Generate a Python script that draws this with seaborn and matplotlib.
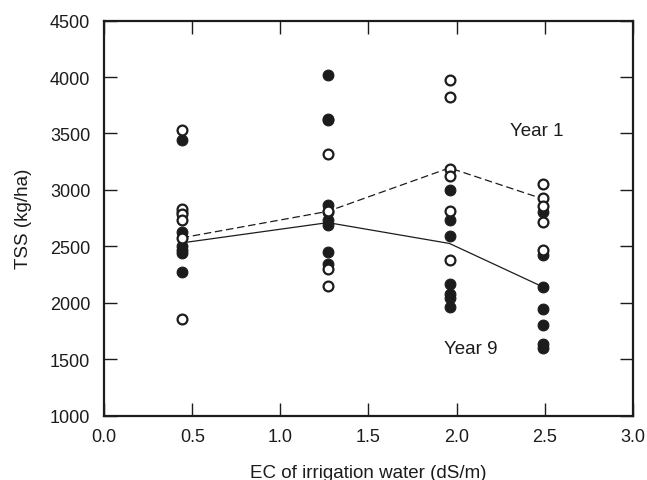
import pandas as pd
import matplotlib
matplotlib.use("Agg")
import matplotlib.pyplot as plt
import seaborn as sns

ec_levels = [0.44, 1.27, 1.96, 2.49]

year1_points = {
    0.44: [3535, 2835, 2785, 2730, 2570, 1860],
    1.27: [3315, 2810, 2300, 2145],
    1.96: [3970, 3820, 3185, 3120, 2815, 2375],
    2.49: [3055, 2925, 2860, 2715, 2465],
}
year9_points = {
    0.44: [3445, 2805, 2625, 2500, 2465, 2440, 2275],
    1.27: [4020, 3630, 3620, 2865, 2805, 2730, 2690, 2450, 2345],
    1.96: [3000, 2730, 2595, 2165, 2075, 2040, 1960],
    2.49: [2800, 2425, 2140, 1945, 1800, 1630, 1595],
}
year1_line = [2575, 2810, 3195, 2920]
year9_line = [2530, 2710, 2525, 2140]

def to_frame(d):
    rows = [(ec, v) for ec, vals in d.items() for v in vals]
    return pd.DataFrame(rows, columns=["ec", "tss"])

df1 = to_frame(year1_points)
df9 = to_frame(year9_points)
lines = pd.DataFrame({"ec": ec_levels * 2,
                      "tss": year1_line + year9_line,
                      "year": ["Year 1"] * 4 + ["Year 9"] * 4})

sns.set_style("ticks")
ink = "#1c1c1c"
plt.rcParams.update({
    "font.family": ["Liberation Sans", "DejaVu Sans"],
    "xtick.direction": "in", "ytick.direction": "in",
    "xtick.top": True, "ytick.right": True,
    "xtick.major.size": 9.5, "ytick.major.size": 9.5,
    "xtick.major.width": 1.0, "ytick.major.width": 1.0,
    "xtick.color": ink, "ytick.color": ink,
})

fig = plt.figure(figsize=(6.47, 4.81), dpi=100)
ax = fig.add_axes([0.161, 0.134, 0.817, 0.821])

sns.lineplot(data=lines[lines.year == "Year 1"], x="ec", y="tss", ax=ax,
             color=ink, lw=0.9, linestyle=(0, (6, 3)), zorder=2)
sns.lineplot(data=lines[lines.year == "Year 9"], x="ec", y="tss", ax=ax,
             color=ink, lw=0.9, zorder=2)
sns.scatterplot(data=df9, x="ec", y="tss", ax=ax, s=60, color=ink,
                edgecolor=ink, linewidth=0.8, zorder=3)
sns.scatterplot(data=df1, x="ec", y="tss", ax=ax, s=50, facecolor="white",
                edgecolor=ink, linewidth=1.6, zorder=4)

ax.text(2.456, 3528, "Year 1", fontsize=13.5, color=ink, ha="center", va="center")
ax.text(2.078, 1594, "Year 9", fontsize=13.5, color=ink, ha="center", va="center")

ax.set_xlim(0, 3)
ax.set_ylim(1000, 4500)
ax.set_xticks([0, 0.5, 1.0, 1.5, 2.0, 2.5, 3.0])
ax.set_yticks(range(1000, 4501, 500))
ax.set_xticklabels(["0.0", "0.5", "1.0", "1.5", "2.0", "2.5", "3.0"])
ax.tick_params(which="both", direction="in", length=9.5, width=1.0, color=ink,
               labelsize=13, labelcolor=ink, top=True, right=True)
ax.tick_params(axis="x", pad=9)
ax.tick_params(axis="y", pad=10)
for sp in ax.spines.values():
    sp.set_linewidth(1.6)
    sp.set_color(ink)
ax.set_xlabel("EC of irrigation water (dS/m)", fontsize=13.5, color=ink, labelpad=14)
ax.set_ylabel("TSS (kg/ha)", fontsize=13.5, color=ink, labelpad=13)

fig.savefig("out.png", dpi=100)
